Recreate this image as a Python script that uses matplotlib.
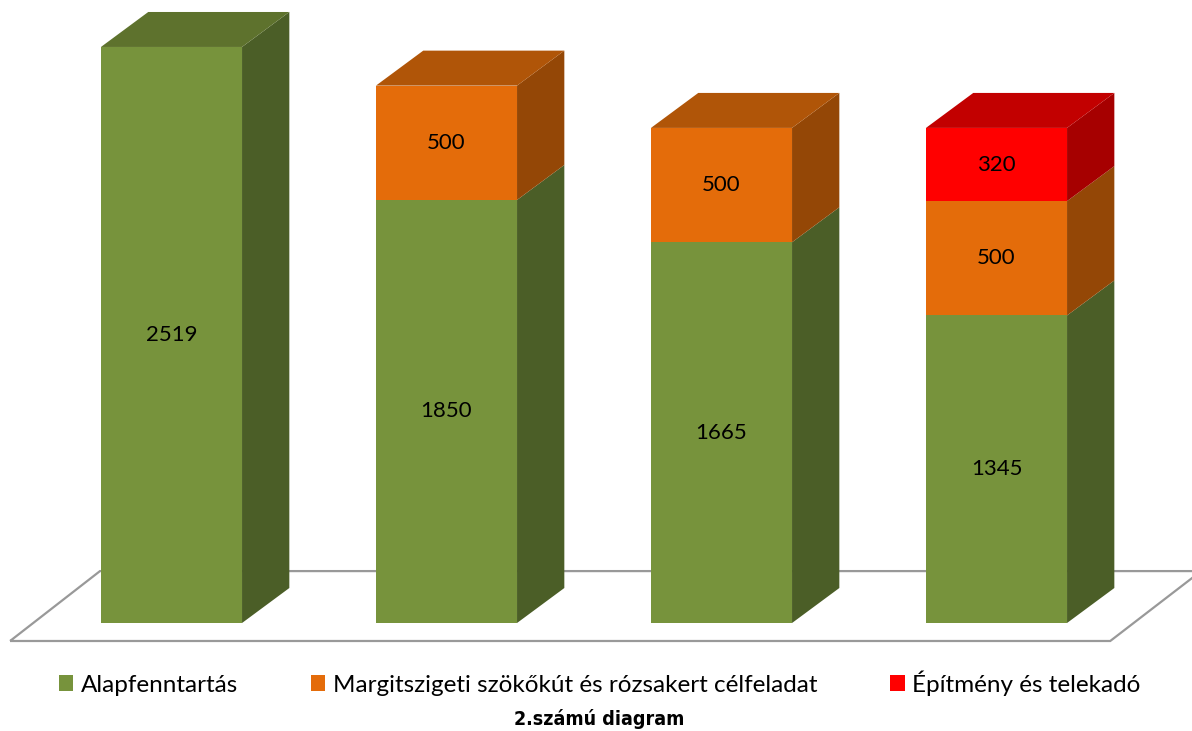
import matplotlib
matplotlib.use('Agg')

import numpy as np
import matplotlib.pyplot as plt
from matplotlib.patches import Polygon, Patch

# data
series = ['Alapfenntartás',
          'Margitszigeti szökőkút és rózsakert célfeladat',
          'Építmény és telekadó']
alap = [2519, 1850, 1665, 1345]
margit = [0, 500, 500, 500]
epitmeny = [0, 0, 0, 320]
title = '2.számú diagram'

# front, side, top colours per series
colors = [('#77933c', '#4b5e27', '#5e722d'),
          ('#e46c0a', '#944706', '#b05508'),
          ('#ff0000', '#a60000', '#c20000')]

plt.rcParams['font.family'] = ['Lato', 'DejaVu Sans']

fig = plt.figure(figsize=(11.92, 7.31), dpi=100)
ax = fig.add_axes([0, 0, 1, 1])
ax.set_xlim(-0.6236, 3.7109)
ax.set_ylim(-472.3, 2724.4)
ax.axis('off')

width = 0.513
ddx = 0.172   # depth offset in x units
ddy = 153.0   # depth offset in value units

# floor outline
fl = Polygon([(-0.587, -78.7), (3.4136, -78.7), (3.744, 227), (-0.26, 227)],
             closed=True, fill=False, edgecolor='#999999', lw=1.6, zorder=1)
ax.add_patch(fl)

stack = np.array([alap, margit, epitmeny])
n = stack.shape[1]
for i in range(n):
    x0 = i - width / 2
    x1 = i + width / 2
    bottom = 0
    top_idx = max(k for k in range(3) if stack[k, i] > 0)
    for k in range(3):
        v = stack[k, i]
        if v <= 0:
            continue
        front, side, topc = colors[k]
        ax.bar(i, v, width=width, bottom=bottom, color=front, zorder=3,
               linewidth=0)
        sp = Polygon([(x1, bottom), (x1 + ddx, bottom + ddy),
                      (x1 + ddx, bottom + v + ddy), (x1, bottom + v)],
                     closed=True, facecolor=side, edgecolor='none', zorder=3)
        ax.add_patch(sp)
        if k == top_idx:
            tp = Polygon([(x0, bottom + v), (x0 + ddx, bottom + v + ddy),
                          (x1 + ddx, bottom + v + ddy), (x1, bottom + v)],
                         closed=True, facecolor=topc, edgecolor='none',
                         zorder=3)
            ax.add_patch(tp)
        ax.text(i, bottom + v / 2, str(v), ha='center', va='center',
                fontsize=16, color='black', zorder=4)
        bottom += v

handles = [Patch(facecolor=c[0], edgecolor='none') for c in colors]
fig.legend(handles, series, loc='center', bbox_to_anchor=(0.503, 0.066),
           ncol=3, frameon=False, fontsize=17.5, handlelength=0.6,
           handleheight=0.6, handletextpad=0.3, columnspacing=3.0)

fig.text(0.503, 0.017, title, ha='center', va='center', fontsize=14,
         fontweight='bold', fontstretch='condensed',
         family=['Liberation Sans Narrow', 'DejaVu Sans'])

fig.savefig('out.png', dpi=100)
